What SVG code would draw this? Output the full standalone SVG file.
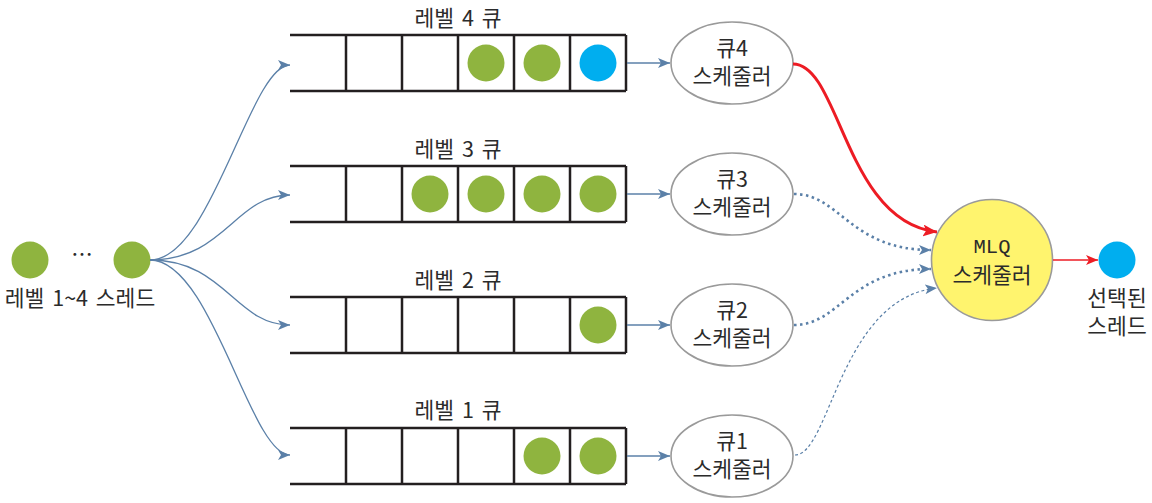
<svg xmlns="http://www.w3.org/2000/svg" width="1152" height="503" viewBox="0 0 1152 503">
<style>
.t{font-family:"Noto Sans CJK KR","Liberation Sans",sans-serif;font-size:21.5px;fill:#2b2b2b;text-anchor:middle;word-spacing:3px}
.m{font-family:"Liberation Mono","Noto Sans CJK KR",monospace;font-size:20.5px;fill:#2b2b2b;text-anchor:middle}
.q{stroke:#231f20;stroke-width:2.5;fill:none}
.g{fill:#8fb43f}
.b{fill:#00aeef}
.el{fill:#fff;stroke:#9a9a9a;stroke-width:1.6}
.c{fill:none;stroke:#5b80a8;stroke-width:1.3}
</style>
<defs>
<marker id="ab" viewBox="0 0 12 10" refX="12" refY="5" markerWidth="12" markerHeight="10" markerUnits="userSpaceOnUse" orient="auto"><path d="M0,0 L12,5 L0,10 L3,5 Z" fill="#5b80a8"/></marker>
<marker id="ar" viewBox="0 0 14 12" refX="14" refY="6" markerWidth="14" markerHeight="12" markerUnits="userSpaceOnUse" orient="auto"><path d="M0,0 L14,6 L0,12 L3,6 Z" fill="#ed1c24"/></marker>
<marker id="ar2" viewBox="0 0 12 10" refX="12" refY="5" markerWidth="12" markerHeight="10" markerUnits="userSpaceOnUse" orient="auto"><path d="M0,0 L12,5 L0,10 L3,5 Z" fill="#ed1c24"/></marker>
</defs>

<g id="threads">
<circle class="g" cx="30" cy="260" r="18.5"/>
<text class="t" x="82" y="262">…</text>
<circle class="g" cx="132" cy="260" r="18.5"/>
<text class="t" x="80" y="306">레벨 1~4 스레드</text>
</g>

<g id="queue4">
<text class="t" x="458" y="26">레벨 4 큐</text>
<path class="q" d="M290,35 H626 M290,91 H626 M346,35 V91 M402,35 V91 M458,35 V91 M514,35 V91 M570,35 V91 M626,35 V91"/>
<circle class="g" cx="486" cy="63" r="18.5"/>
<circle class="g" cx="542" cy="63" r="18.5"/>
<circle class="b" cx="598" cy="63" r="18.5"/>
</g>
<g id="queue3">
<text class="t" x="458" y="157">레벨 3 큐</text>
<path class="q" d="M290,166 H626 M290,222 H626 M346,166 V222 M402,166 V222 M458,166 V222 M514,166 V222 M570,166 V222 M626,166 V222"/>
<circle class="g" cx="430" cy="194" r="18.5"/>
<circle class="g" cx="486" cy="194" r="18.5"/>
<circle class="g" cx="542" cy="194" r="18.5"/>
<circle class="g" cx="598" cy="194" r="18.5"/>
</g>
<g id="queue2">
<text class="t" x="458" y="288">레벨 2 큐</text>
<path class="q" d="M290,297 H626 M290,353 H626 M346,297 V353 M402,297 V353 M458,297 V353 M514,297 V353 M570,297 V353 M626,297 V353"/>
<circle class="g" cx="598" cy="325" r="18.5"/>
</g>
<g id="queue1">
<text class="t" x="458" y="418">레벨 1 큐</text>
<path class="q" d="M290,428 H626 M290,484 H626 M346,428 V484 M402,428 V484 M458,428 V484 M514,428 V484 M570,428 V484 M626,428 V484"/>
<circle class="g" cx="542" cy="456" r="18.5"/>
<circle class="g" cx="598" cy="456" r="18.5"/>
</g>

<g id="sched4">
<ellipse class="el" cx="732" cy="63" rx="61" ry="41"/>
<text class="t" x="732" y="56">큐4</text>
<text class="t" x="732" y="84">스케줄러</text>
</g>
<g id="sched3">
<ellipse class="el" cx="732" cy="194" rx="61" ry="41"/>
<text class="t" x="732" y="187">큐3</text>
<text class="t" x="732" y="215">스케줄러</text>
</g>
<g id="sched2">
<ellipse class="el" cx="732" cy="325" rx="61" ry="41"/>
<text class="t" x="732" y="318">큐2</text>
<text class="t" x="732" y="346">스케줄러</text>
</g>
<g id="sched1">
<ellipse class="el" cx="732" cy="456" rx="61" ry="41"/>
<text class="t" x="732" y="449">큐1</text>
<text class="t" x="732" y="477">스케줄러</text>
</g>

<g id="mlq">
<circle cx="992" cy="260" r="60.5" fill="#fff46e" stroke="#9a9a9a" stroke-width="1.6"/>
<text class="m" x="992" y="253">MLQ</text>
<text class="t" x="992" y="283">스케줄러</text>
</g>

<g id="selected">
<circle class="b" cx="1117" cy="260" r="18.5"/>
<text class="t" x="1117" y="306">선택된</text>
<text class="t" x="1117" y="334">스레드</text>
</g>

<g id="connectors">
<path class="c" d="M150,260 C212,260 250,65 290,65" marker-end="url(#ab)"/>
<path class="c" d="M150,260 C225,260 235,195 290,195" marker-end="url(#ab)"/>
<path class="c" d="M150,260 C225,260 235,325 290,325" marker-end="url(#ab)"/>
<path class="c" d="M150,260 C212,260 250,455 290,455" marker-end="url(#ab)"/>
<path class="c" d="M627,63 H670" marker-end="url(#ab)"/>
<path class="c" d="M627,194 H670" marker-end="url(#ab)"/>
<path class="c" d="M627,325 H670" marker-end="url(#ab)"/>
<path class="c" d="M627,456 H670" marker-end="url(#ab)"/>
<path d="M793,64 C840,64 845,222 937,232" fill="none" stroke="#ed1c24" stroke-width="3" marker-end="url(#ar)"/>
<path d="M794,194 C840,194 850,250 931,250" fill="none" stroke="#5b80a8" stroke-width="2.6" stroke-dasharray="2.5,3.5" marker-end="url(#ab)"/>
<path d="M794,325 C840,325 850,269 931,269" fill="none" stroke="#5b80a8" stroke-width="2.6" stroke-dasharray="2.5,3.5" marker-end="url(#ab)"/>
<path d="M795,455 C830,455 840,298 937,288" fill="none" stroke="#5b80a8" stroke-width="1.2" stroke-dasharray="3,2.5" marker-end="url(#ab)"/>
<path d="M1053,260 H1098" fill="none" stroke="#ed1c24" stroke-width="1.3" marker-end="url(#ar2)"/>
</g>
</svg>
